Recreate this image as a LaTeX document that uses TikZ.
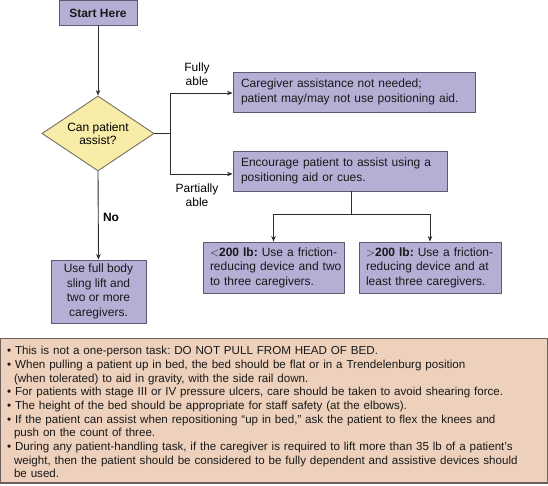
\documentclass[tikz,border=0pt]{standalone}
\usepackage{fontspec}
\setmainfont{Liberation Sans}
\usetikzlibrary{shapes.geometric,arrows.meta}

\definecolor{boxfill}{RGB}{181,174,213}
\definecolor{boxline}{RGB}{92,90,112}
\definecolor{askfill}{RGB}{247,236,168}
\definecolor{askline}{RGB}{120,114,98}
\definecolor{notefill}{RGB}{237,209,188}
\definecolor{noteline}{RGB}{108,96,88}
\definecolor{flowline}{RGB}{45,45,45}

\tikzset{
  stepbox/.style   = {draw=boxline, fill=boxfill, line width=0.9pt, inner sep=0pt,
                      text=black!90, font=\fontsize{12}{14.5}\selectfont},
  leftbox/.style   = {stepbox, align=left},
  askbox/.style    = {diamond, draw=askline, fill=askfill, line width=0.9pt, inner sep=0pt,
                      aspect=1.5, minimum width=112pt, minimum height=75pt, align=center,
                      font=\fontsize{12}{13.5}\selectfont},
  branchlabel/.style = {align=center, inner sep=0pt, font=\fontsize{12}{14}\selectfont},
  notebox/.style   = {draw=noteline, fill=notefill, line width=1.3pt, inner sep=0pt},
  notetext/.style  = {inner sep=0pt, text width=540pt, align=left, text=black!90,
                      font=\fontsize{11.6}{13.7}\selectfont},
  flow/.style      = {draw=flowline, line width=0.9pt},
  flowarrow/.style = {flow, -{Stealth[length=5.5pt,width=4.5pt]}},
}

\newcommand{\noteitem}[1]{\hangindent=6.8pt\hangafter=1\noindent\textbullet\ #1\par}

\begin{document}
\frenchspacing
\hbadness=10000 \hfuzz=20pt
\begin{tikzpicture}[x=1pt, y=-1pt]
    \useasboundingbox (0,0) rectangle (548,486);

    % flow chart boxes
    \node[stepbox, minimum width=78pt, minimum height=25pt, font=\fontsize{12}{14.5}\selectfont\bfseries]
        (start) at (98,13) {Start Here};
    \node[askbox] (ask) at (98,133.5) {Can patient\\assist?};
    \node[leftbox, minimum width=242pt, minimum height=40pt, text width=226pt]
        (noneed) at (354,92) {Caregiver assistance not needed;\\patient may/may not use positioning aid.};
    \node[leftbox, minimum width=214pt, minimum height=40pt, text width=198pt]
        (encourage) at (340,171) {Encourage patient to assist using a\\positioning aid or cues.};
    \node[leftbox, minimum width=141pt, minimum height=51pt, text width=127pt]
        (light) at (273.5,267.5) {\mbox{$<$\textbf{200 lb:} Use a friction-}\\\mbox{reducing device and two}\\\mbox{to three caregivers.}};
    \node[leftbox, minimum width=142pt, minimum height=51pt, text width=128pt]
        (heavy) at (430,267.5) {\mbox{$>$\textbf{200 lb:} Use a friction-}\\\mbox{reducing device and at}\\\mbox{least three caregivers.}};
    \node[stepbox, align=center, minimum width=95pt, minimum height=63pt]
        (sling) at (98.5,291.5) {Use full body\\sling lift and\\two or more\\caregivers.};

    % branch points
    \coordinate (split) at (170,133.5);
    \coordinate (fork)  at (351,214);

    % connectors
    \draw[flowarrow] (start) -- (ask);
    \draw[flow]      (ask.east) -- (split);
    \draw[flowarrow] (split) |- ([yshift=-1pt]noneed.west);
    \draw[flowarrow] (split) |- ([yshift=-3pt]encourage.west);
    \draw[flow]      (encourage.south -| fork) -- (fork);
    \draw[flowarrow] (fork) -| (light.north);
    \draw[flowarrow] (fork) -| (heavy.north);
    \draw[flowarrow] (ask.south) -- (sling.north);

    % labels
    \node[branchlabel] (fullylabel)  at (197,74)    {Fully\\able};
    \node[branchlabel] (partlabel)   at (197,195.5) {Partially\\able};
    \node[branchlabel, font=\fontsize{12}{14}\selectfont\bfseries] (nolabel) at (111,217) {No};

    % notes panel
    \node[notebox, minimum width=546.5pt, minimum height=144.5pt] (notes) at (274,410.75) {};
    \node[notetext, anchor=north west] (notelist) at (7,346) {%
      \noteitem{This is not a one-person task: DO NOT PULL FROM HEAD OF BED.}
      \noteitem{When pulling a patient up in bed, the bed should be flat or in a Trendelenburg position\newline
                (when tolerated) to aid in gravity, with the side rail down.}
      \noteitem{For patients with stage III or IV pressure ulcers, care should be taken to avoid shearing force.}
      \noteitem{The height of the bed should be appropriate for staff safety (at the elbows).}
      \noteitem{If the patient can assist when repositioning “up in bed,” ask the patient to flex the knees and\newline
                push on the count of three.}
      \noteitem{During any patient-handling task, if the caregiver is required to lift more than 35 lb of a patient’s\newline
                weight, then the patient should be considered to be fully dependent and assistive devices should\newline
                be used.}};
\end{tikzpicture}
\end{document}
